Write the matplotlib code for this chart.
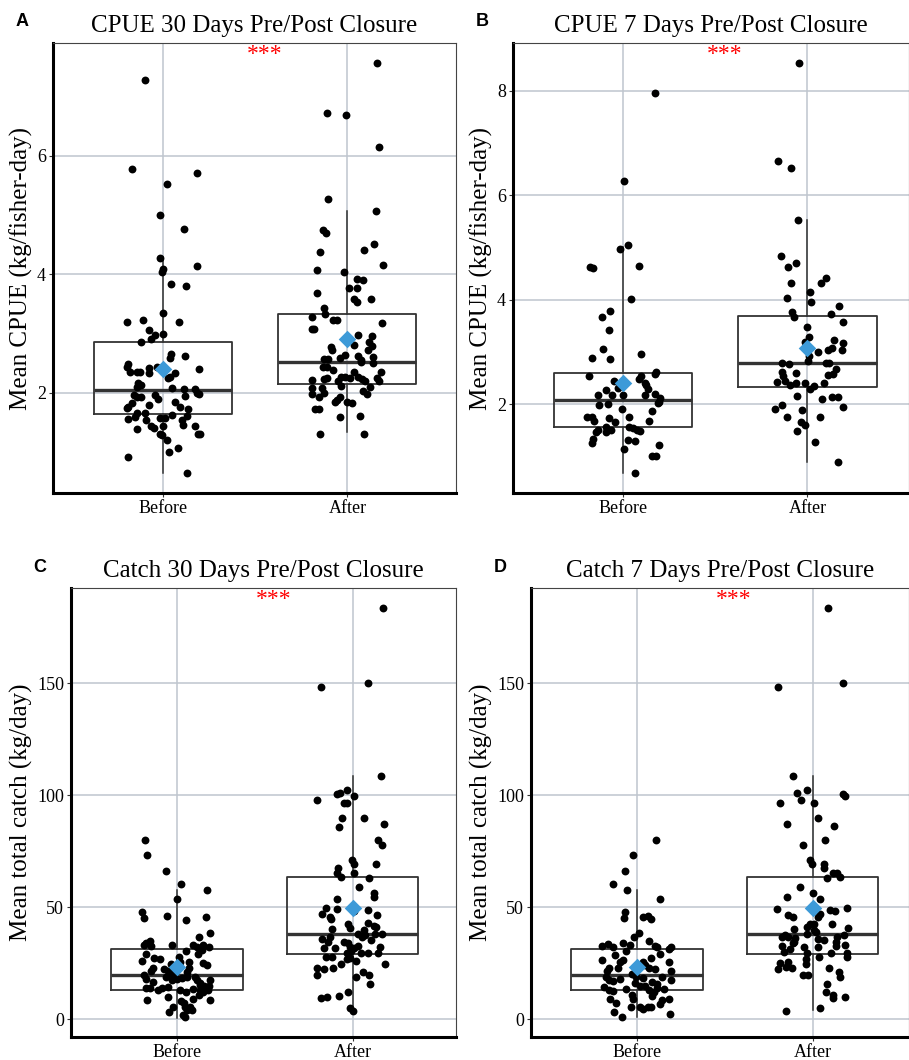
# -*- coding: utf-8 -*-
"""CPUE / catch before-after closure boxplots (4 panels)"""
import numpy as np
import matplotlib
matplotlib.use('Agg')
import matplotlib.pyplot as plt

plt.rcParams['font.family'] = ['Liberation Serif', 'DejaVu Serif']

groups = ['Before', 'After']

# jittered points: (x offset from category, value)
a_before = [(-0.10,7.27),(-0.17,5.77),(0.18,5.71),(0.02,5.52),(-0.02,4.99),(0.11,4.76),(-0.02,4.28),
    (0.0,4.08),(-0.005,4.04),(0.18,4.13),(0.04,3.84),(0.125,3.80),(0.0,3.34),(-0.2,3.20),(-0.11,3.22),
    (0.085,3.19),(-0.08,3.06),(-0.045,2.97),(0.0,2.99),(-0.07,2.90),(-0.12,2.85),(0.04,2.65),(0.12,2.61),
    (0.036,2.58),(-0.19,2.48),(-0.2,2.43),(0.195,2.40),(-0.08,2.42),(-0.036,2.43),(-0.18,2.35),(-0.145,2.35),
    (-0.127,2.35),(-0.08,2.33),(0.063,2.33),(0.036,2.27),(0.027,2.24),(-0.14,2.17),(-0.12,2.13),(-0.145,2.10),
    (0.045,2.08),(0.11,2.06),(0.17,2.06),(0.18,2.0),(0.195,1.98),(0.12,1.94),(-0.16,1.96),(-0.145,1.93),
    (-0.12,1.92),(-0.045,1.96),(-0.027,1.90),(-0.17,1.82),(-0.19,1.76),(-0.2,1.74),(-0.08,1.79),(0.063,1.85),
    (0.09,1.75),(0.136,1.72),(-0.1,1.65),(-0.145,1.66),(-0.155,1.59),(0.045,1.63),(0.13,1.61),(-0.19,1.55),
    (-0.095,1.53),(-0.02,1.57),(0.01,1.57),(0.1,1.54),(0.105,1.45),(-0.07,1.44),(-0.05,1.40),(0.0,1.43),
    (0.17,1.43),(-0.145,1.38),(-0.02,1.31),(-0.005,1.28),(0.187,1.30),(0.2,1.30),(0.018,1.20),(0.08,1.07),
    (0.03,0.99),(-0.19,0.92),(0.13,0.65)]
a_after = [(0.16,7.56),(-0.11,6.72),(-0.007,6.69),(0.17,6.15),(-0.107,5.26),(0.154,5.07),(-0.134,4.74),
    (-0.116,4.70),(0.145,4.51),(0.09,4.40),(-0.15,4.37),(0.196,4.15),(-0.167,4.07),(-0.018,4.03),(0.054,3.92),
    (0.087,3.90),(0.009,3.76),(0.054,3.76),(-0.163,3.68),(0.033,3.58),(0.05,3.53),(0.127,3.58),(-0.127,3.42),
    (-0.12,3.32),(-0.19,3.28),(-0.08,3.23),(-0.058,3.23),(0.19,3.18),(-0.19,3.08),(-0.18,3.08),(0.06,2.97),
    (0.136,2.95),(0.118,2.86),(0.136,2.79),(0.033,2.80),(-0.09,2.77),(-0.085,2.72),(0.11,2.72),(-0.013,2.64),
    (-0.13,2.57),(-0.103,2.56),(-0.043,2.58),(0.06,2.61),(0.072,2.55),(0.14,2.60),(0.14,2.50),(0.072,2.51),
    (-0.134,2.44),(-0.11,2.43),(-0.076,2.38),(0.18,2.34),(0.16,2.24),(0.17,2.20),(0.033,2.35),(-0.036,2.27),
    (-0.013,2.27),(0.014,2.24),(0.06,2.27),(0.078,2.23),(-0.19,2.21),(-0.13,2.23),(-0.11,2.25),(-0.05,2.19),
    (-0.036,2.11),(0.096,2.19),(0.123,2.09),(-0.19,2.07),(-0.19,1.98),(-0.14,2.07),(-0.13,2.0),(0.087,2.02),
    (0.105,1.98),(-0.154,1.92),(-0.04,1.93),(-0.067,1.85),(-0.058,1.88),(-0.004,1.85),(0.024,1.82),
    (-0.176,1.72),(-0.152,1.72),(-0.04,1.59),(0.07,1.61),(-0.15,1.31),(0.09,1.31)]

b_before = [(0.174,7.95),(0.004,6.27),(0.03,5.05),(-0.016,4.96),(-0.178,4.63),(-0.163,4.60),(0.085,4.64),
    (0.042,4.01),(-0.067,3.79),(-0.114,3.66),(-0.074,3.42),(-0.105,3.05),(-0.165,2.89),(-0.069,2.86),
    (0.098,2.96),(0.1,2.53),(0.09,2.48),(0.18,2.61),(0.176,2.58),(-0.185,2.53),(-0.05,2.45),(0.118,2.40),
    (0.127,2.37),(-0.09,2.27),(-0.027,2.31),(0.136,2.29),(-0.136,2.17),(-0.058,2.18),(0.0,2.17),(0.121,2.17),
    (0.172,2.20),(0.2,2.11),(0.196,2.05),(0.19,2.02),(-0.127,1.99),(-0.08,2.01),(-0.005,1.90),(0.16,1.86),
    (-0.194,1.76),(-0.167,1.76),(-0.154,1.67),(-0.076,1.73),(-0.04,1.66),(0.036,1.76),(0.14,1.68),
    (-0.09,1.57),(-0.063,1.51),(-0.09,1.46),(-0.136,1.50),(-0.145,1.46),(0.036,1.57),(0.054,1.54),
    (0.078,1.51),(0.092,1.48),(-0.163,1.33),(-0.167,1.25),(0.027,1.32),(0.067,1.29),(0.194,1.21),
    (0.005,1.15),(0.158,1.0),(0.18,1.01),(0.067,0.69)]
b_after = [(-0.045,8.52),(-0.16,6.66),(-0.087,6.52),(-0.049,5.53),(-0.145,4.83),(-0.105,4.63),(-0.06,4.71),
    (-0.09,4.31),(0.072,4.31),(0.1,4.41),(-0.109,4.03),(0.013,4.14),(0.018,3.96),(-0.083,3.76),(-0.072,3.66),
    (0.172,3.88),(0.13,3.72),(0.19,3.58),(-0.005,3.47),(0.007,3.29),(-0.011,3.18),(0.145,3.22),(0.194,3.17),
    (0.185,3.04),(0.134,3.07),(0.109,3.03),(0.058,2.99),(0.007,2.92),(0.004,2.83),(-0.14,2.78),(-0.1,2.77),
    (0.103,2.78),(0.118,2.78),(0.152,2.68),(0.139,2.58),(0.112,2.56),(-0.14,2.61),(-0.063,2.60),(-0.13,2.53),
    (-0.163,2.42),(-0.123,2.45),(-0.096,2.37),(-0.06,2.40),(-0.014,2.41),(0.089,2.40),(0.034,2.34),
    (0.013,2.29),(-0.054,2.16),(0.08,2.10),(0.134,2.13),(0.163,2.13),(-0.14,1.99),(-0.174,1.90),(0.194,1.94),
    (-0.027,1.88),(-0.11,1.75),(0.067,1.75),(-0.033,1.66),(-0.014,1.61),(-0.054,1.48),(0.04,1.27),(0.163,0.89)]

c_before = [(-0.184,80.2),(-0.17,73.4),(-0.065,66.3),(0.023,60.5),(0.17,57.5),(0.0,53.5),(-0.2,48.0),
    (-0.19,45.3),(-0.06,46.1),(0.05,44.4),(0.165,45.5),(0.19,38.3),(0.125,36.8),(-0.156,35.1),(-0.18,33.9),
    (-0.19,33.1),(-0.148,32.7),(-0.027,33.1),(0.093,33.1),(0.112,32.4),(0.15,33.1),(0.18,32.1),(0.14,30.9),
    (0.048,30.5),(0.118,29.0),(-0.18,29.0),(-0.13,27.2),(-0.1,26.7),(0.011,27.9),(-0.2,26.0),(0.065,25.3),
    (0.019,25.4),(-0.034,24.8),(0.146,25.0),(0.173,24.2),(-0.14,23.0),(-0.15,21.7),(-0.072,22.6),
    (-0.053,21.7),(-0.04,20.5),(-0.021,19.8),(0.065,23.0),(0.055,21.2),(-0.19,19.5),(-0.18,18.0),
    (-0.065,18.6),(-0.03,17.5),(0.0,17.8),(0.027,18.3),(0.055,19.0),(0.103,18.7),(0.112,17.5),(-0.135,16.6),
    (0.19,17.5),(0.13,16.0),(-0.18,14.0),(-0.156,13.8),(-0.087,13.7),(-0.11,12.8),(-0.05,14.3),(0.017,13.1),
    (0.05,12.0),(0.093,13.4),(0.13,15.3),(0.154,14.6),(0.18,14.9),(0.129,12.8),(0.15,12.3),(0.178,12.8),
    (0.125,10.8),(-0.053,9.8),(-0.173,8.6),(0.19,8.6),(0.023,8.3),(0.042,7.1),(0.09,8.9),(-0.025,5.6),
    (0.046,5.6),(0.074,5.3),(0.085,4.2),(0.059,4.2),(-0.044,3.0),(0.034,1.9),(0.046,0.9)]
c_after = [(0.171,183.7),(-0.18,148.2),(0.089,150.0),(0.163,108.4),(-0.2,97.8),(-0.086,100.7),(-0.07,101.2),
    (-0.029,102.5),(0.011,99.7),(-0.046,96.7),(-0.032,96.7),(-0.06,89.9),(0.068,89.9),(-0.076,86.0),
    (0.18,87.1),(0.144,80.2),(0.167,77.7),(-0.004,71.3),(0.006,69.2),(0.133,69.1),(-0.084,67.3),
    (-0.086,65.4),(-0.067,63.3),(0.01,65.4),(0.095,63.2),(0.038,58.8),(0.125,56.5),(0.125,54.4),
    (-0.086,53.5),(-0.15,49.8),(-0.175,47.0),(-0.089,49.0),(0.01,48.4),(0.091,48.7),(-0.13,45.8),
    (-0.124,44.6),(0.139,46.4),(-0.023,42.5),(-0.013,40.6),(0.09,42.8),(0.12,41.8),(0.135,41.3),
    (-0.118,40.3),(0.063,39.8),(-0.175,35.8),(-0.127,36.6),(0.029,38.0),(0.053,36.8),(0.072,37.5),
    (0.13,38.0),(0.167,37.9),(0.105,35.4),(-0.048,34.3),(-0.023,33.9),(-0.137,34.6),(-0.165,31.9),
    (-0.1,31.9),(-0.013,32.4),(0.006,31.7),(0.034,32.8),(0.158,32.4),(-0.15,27.9),(-0.118,27.6),
    (-0.032,29.4),(-0.008,30.2),(0.048,29.4),(0.091,29.4),(0.144,29.4),(-0.032,26.9),(0.021,26.1),
    (-0.013,27.2),(0.186,24.7),(-0.067,24.5),(-0.112,23.0),(-0.2,22.7),(-0.165,22.3),(0.059,21.2),
    (-0.2,19.5),(0.095,19.5),(0.021,18.7),(0.1,15.8),(-0.023,12.3),(-0.18,9.4),(-0.143,9.8),(-0.076,10.5),
    (-0.013,4.9),(0.002,3.7)]

d_before = [(0.105,80.2),(-0.023,73.4),(-0.068,66.3),(-0.14,60.5),(-0.06,57.5),(0.133,53.5),(-0.068,48.0),
    (-0.074,45.3),(0.032,45.8),(0.06,46.1),(0.08,44.6),(0.008,38.3),(-0.02,36.8),(0.068,35.1),(-0.08,33.9),
    (-0.04,33.1),(-0.2,32.7),(-0.164,33.6),(-0.135,32.1),(0.1,32.8),(0.116,32.1),(0.194,32.4),(0.18,31.4),
    (-0.065,30.6),(-0.125,28.8),(0.13,29.0),(0.078,27.2),(-0.078,26.4),(-0.097,25.3),(-0.2,26.2),(0.18,25.7),
    (0.032,25.3),(0.046,24.2),(-0.163,23.0),(-0.17,21.7),(-0.11,22.7),(0.065,22.7),(0.1,22.3),(0.194,21.5),
    (-0.03,20.1),(-0.18,19.0),(-0.163,17.5),(-0.135,16.8),(-0.1,18.0),(-0.006,19.0),(0.032,18.3),
    (0.14,18.6),(0.194,17.5),(0.087,16.5),(0.112,15.8),(-0.011,16.0),(-0.19,14.3),(-0.158,13.1),
    (-0.14,12.6),(-0.063,13.4),(0.017,14.6),(0.046,15.0),(0.07,13.1),(0.097,12.3),(0.112,13.7),(0.156,13.4),
    (-0.03,10.8),(-0.021,8.9),(-0.154,8.9),(-0.12,7.4),(0.084,10.1),(0.14,8.6),(0.184,9.2),(0.13,6.8),
    (-0.036,5.3),(0.017,5.6),(0.036,4.6),(0.061,5.3),(0.078,5.3),(-0.13,3.0),(0.19,2.2),(-0.087,0.9)]
d_after = [(0.089,183.7),(-0.198,148.2),(0.173,150.0),(-0.114,108.4),(-0.089,101.2),(-0.032,102.5),
    (-0.065,97.8),(0.006,96.7),(-0.184,96.7),(0.173,100.4),(0.183,99.7),(0.034,89.9),(-0.143,87.1),
    (0.125,86.2),(0.072,80.2),(-0.055,77.7),(-0.013,71.3),(-0.004,69.2),(0.068,69.1),(0.067,67.6),
    (0.114,65.4),(0.139,65.1),(0.082,63.2),(0.158,63.3),(-0.07,58.8),(0.0,56.5),(-0.143,54.4),(0.044,53.5),
    (-0.2,49.0),(0.1,48.7),(0.13,48.4),(0.196,49.5),(-0.137,46.5),(-0.114,45.8),(0.044,47.0),(0.029,45.5),
    (0.11,42.5),(-0.032,41.3),(-0.013,42.5),(0.01,42.5),(-0.108,40.3),(0.2,40.6),(0.021,39.0),(0.006,39.8),
    (-0.175,36.8),(-0.156,37.6),(-0.137,36.6),(-0.1,36.1),(-0.032,38.0),(0.029,35.8),(0.063,35.4),
    (0.139,36.8),(0.177,37.6),(-0.103,34.5),(-0.112,34.0),(0.135,34.6),(-0.175,32.7),(-0.127,31.2),
    (-0.051,32.4),(0.034,32.1),(0.135,32.7),(0.186,33.1),(-0.165,29.9),(-0.032,29.4),(0.038,27.9),
    (0.106,29.4),(0.196,29.4),(0.196,27.6),(-0.038,26.7),(-0.038,24.7),(-0.184,25.0),(-0.137,25.7),
    (-0.15,23.2),(-0.198,22.3),(-0.118,22.7),(0.095,22.7),(0.152,21.2),(0.158,19.0),(-0.055,19.5),
    (-0.023,19.5),(0.082,15.8),(0.076,12.3),(0.114,10.8),(0.116,9.4),(0.183,10.0),(-0.152,3.7),(0.04,4.9)]

# box statistics: whisker low, q1, median, q3, whisker high, mean
a_stats = [(0.65, 1.645, 2.05, 2.85, 4.29, 2.40), (1.33, 2.14, 2.52, 3.33, 5.07, 2.90)]
b_stats = [(0.69, 1.57, 2.08, 2.59, 5.00, 2.41), (0.89, 2.33, 2.78, 3.68, 5.53, 3.08)]
c_stats = [(0.5, 12.8, 19.6, 31.4, 57.7, 23.2), (4.2, 29.3, 38.0, 63.3, 108.4, 49.5)]
d_stats = [(0.9, 12.8, 19.5, 31.4, 57.7, 23.3), (3.9, 29.3, 38.0, 63.3, 108.4, 49.5)]

panels = [
    dict(letter='A', title='CPUE 30 Days Pre/Post Closure', ylabel='Mean CPUE (kg/fisher-day)',
         pts=[a_before, a_after], stats=a_stats, yticks=[2, 4, 6], ylim=(0.306, 7.9),
         xlim=(0.4, 2.59), rect=[53, 43, 456, 493]),
    dict(letter='B', title='CPUE 7 Days Pre/Post Closure', ylabel='Mean CPUE (kg/fisher-day)',
         pts=[b_before, b_after], stats=b_stats, yticks=[2, 4, 6, 8], ylim=(0.30, 8.91),
         xlim=(0.405, 2.55), rect=[513, 43, 909, 493]),
    dict(letter='C', title='Catch 30 Days Pre/Post Closure', ylabel='Mean total catch (kg/day)',
         pts=[c_before, c_after], stats=c_stats, yticks=[0, 50, 100, 150], ylim=(-8.0, 192.6),
         xlim=(0.395, 2.59), rect=[71, 588, 456, 1037]),
    dict(letter='D', title='Catch 7 Days Pre/Post Closure', ylabel='Mean total catch (kg/day)',
         pts=[d_before, d_after], stats=d_stats, yticks=[0, 50, 100, 150], ylim=(-8.0, 192.6),
         xlim=(0.395, 2.55), rect=[531, 588, 909, 1037]),
]

W, H = 909, 1060
fig = plt.figure(figsize=(W / 100, H / 100), dpi=100)
grid_col = '#BFC5CE'
box_col = '#333333'
mean_col = '#3D9AD8'

for p in panels:
    l, t, r, b = p['rect']
    ax = fig.add_axes([l / W, 1 - b / H, (r - l) / W, (b - t) / H])
    ax.set_xlim(*p['xlim'])
    ax.set_ylim(*p['ylim'])
    ax.set_axisbelow(True)
    ax.grid(True, color=grid_col, linewidth=1.1)

    bxp_stats = []
    for i, s in enumerate(p['stats']):
        bxp_stats.append(dict(whislo=s[0], q1=s[1], med=s[2], q3=s[3], whishi=s[4], label=groups[i]))
    ax.bxp(bxp_stats, positions=[1, 2], widths=0.75, showfliers=False, showcaps=False,
           boxprops=dict(color=box_col, linewidth=1.3),
           whiskerprops=dict(color=box_col, linewidth=1.1),
           medianprops=dict(color=box_col, linewidth=2.4), zorder=2)

    for i, pts in enumerate(p['pts']):
        arr = np.array(pts)
        ax.scatter(i + 1 + arr[:, 0], arr[:, 1], s=32, color='black', linewidths=0, zorder=3)
        ax.scatter([i + 1], [p['stats'][i][5]], marker='D', s=80, color=mean_col, linewidths=0, zorder=4)

    ax.set_xticks([1, 2])
    ax.set_xticklabels(groups)
    ax.set_yticks(p['yticks'])
    ax.tick_params(axis='both', labelsize=13, colors='#333333', labelcolor='black', length=3,
                   width=0.8, pad=2)
    ax.set_ylabel(p['ylabel'], fontsize=18, labelpad=3)
    ax.set_title(p['title'], fontsize=18, pad=8)

    for side in ['top', 'right']:
        ax.spines[side].set_color('#444444')
        ax.spines[side].set_linewidth(0.8)
    for side in ['left', 'bottom']:
        ax.spines[side].set_color('black')
        ax.spines[side].set_linewidth(2.2)

    ax.text(1.55, 0.997, '***', transform=ax.get_xaxis_transform(), color='red', fontsize=17,
            ha='center', va='top')
    fig.text((l - 31) / W, 1 - (t - 21) / H, p['letter'], fontsize=13, fontweight='bold',
             family=['Liberation Sans', 'DejaVu Sans'], ha='center', va='center')

fig.savefig('out.png', dpi=100)
